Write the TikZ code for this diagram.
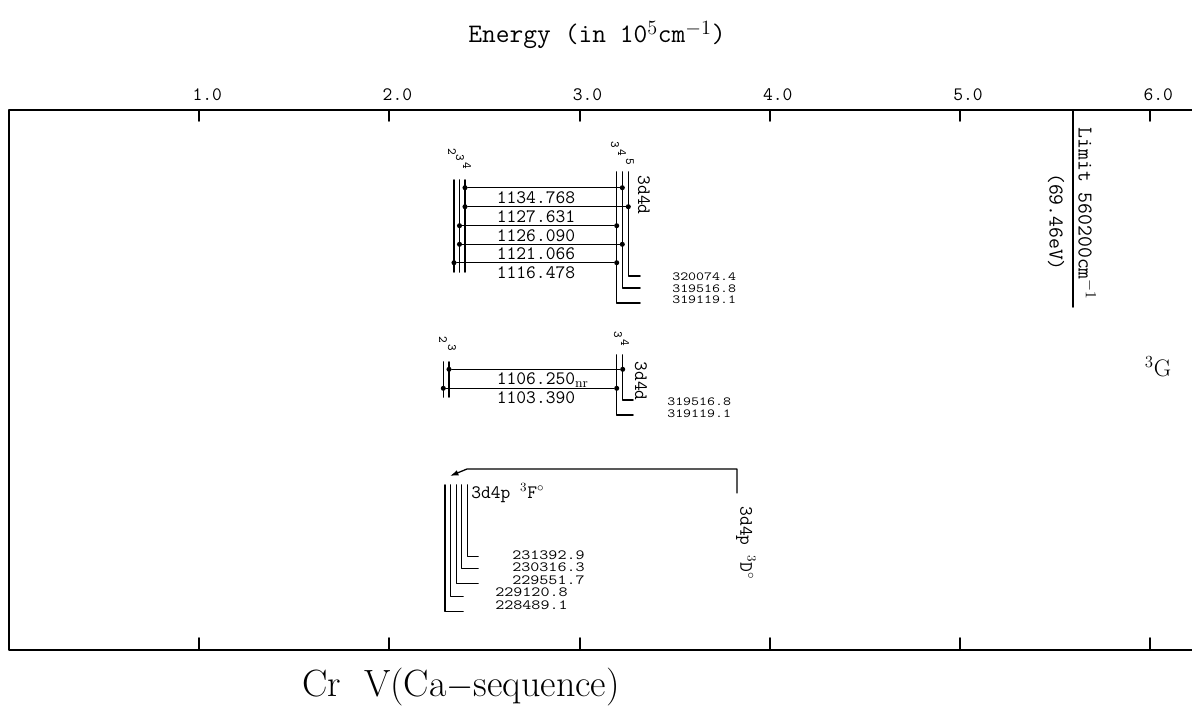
\documentclass[tikz,border=0pt]{standalone}
\usepackage{fontspec}
\usepackage{graphicx}
\usetikzlibrary{arrows.meta}
\newcommand{\squat}[1]{\scalebox{1}[0.8]{#1}}
\begin{document}
\begin{tikzpicture}[x=0.025cm, y=-0.025cm, line cap=round, line join=round,
    frame/.style={line width=1.9pt},
    tickmark/.style={line width=1.4pt},
    level/.style={line width=1.1pt},
    trans/.style={line width=0.9pt},
    dot/.style={circle, fill, inner sep=0pt, minimum size=3.6pt},
    axlabel/.style={font=\ttfamily\fontsize{13.5}{13.5}\selectfont, inner sep=0pt},
    wl/.style={font=\ttfamily\fontsize{13.5}{13.5}\selectfont, inner sep=0pt},
    en/.style={font=\ttfamily\fontsize{11}{11}\selectfont, inner sep=0pt, anchor=west},
    enb/.style={font=\ttfamily\fontsize{12.5}{12.5}\selectfont, inner sep=0pt, anchor=west},
    jnum/.style={font=\ttfamily\fontsize{9}{9}\selectfont, inner sep=0pt, rotate=-90},
    term/.style={font=\ttfamily\fontsize{13.5}{13.5}\selectfont, inner sep=0pt},
    lim/.style={font=\ttfamily\fontsize{15}{15}\selectfont, inner sep=0pt, rotate=-90}]
  \useasboundingbox (0,0) rectangle (1192,711);
  % frame and energy scale
  \draw[frame] (1192,110) -- (9,110) -- (9,650) -- (1192,650);
  \foreach \k in {1,...,6} {
    \draw[tickmark] ({9+190.2*\k},110) -- ++(0,11);
    \draw[tickmark] ({9+190.2*\k},650) -- ++(0,-12);
    \node[axlabel] (t\k) at ({17+190.2*\k},95) {\k.0};
  }
  \node[font=\ttfamily\fontsize{19}{19}\selectfont, inner sep=0pt] (ttl) at (597,35)
    {Energy (in 10$^5$cm$^{-1}$)};
  \node[font=\fontsize{27}{27}\selectfont, inner sep=0pt] (seq) at (461,687)
    {Cr\ \ V(Ca$-$sequence)};
  % ionisation limit
  \draw[level] (1073,110) -- (1073,307);
  \node[lim] (limA) at (1087,214) {Limit 560200cm$^{-1}$};
  \node[lim] (limB) at (1056,222) {(69.46eV)};
  \node[font=\fontsize{17}{17}\selectfont, inner sep=0pt] (g3) at (1158,367) {$^3$G};
  % 3d4p 3F -- 3d4d 3G
  \foreach \x in {454,459.5,465} \draw[level] (\x,180) -- (\x,272);
  \draw[level] (616.7,172) -- (616.7,303) -- (640,303);
  \draw[level] (622.3,172) -- (622.3,288) -- (640,288);
  \draw[level] (628.3,172) -- (628.3,276) -- (640,276);
  \foreach \y/\xa/\xb/\w [count=\i] in {187.7/465/622.3/1134.768,
      206.7/465/628.3/1127.631, 225.7/459.5/616.7/1126.090,
      244.3/459.5/622.3/1121.066, 262.7/454/616.7/1116.478} {
    \node[dot] (a\i) at (\xa,\y) {};
    \node[dot] (b\i) at (\xb,\y) {};
    \draw[trans] (a\i) -- (b\i);
    \node[wl] (w\i) at (536,\y+9.5) {\w};
  }
  \foreach \x/\y/\j [count=\i] in {452/152/2, 460/158/3, 467/166/4,
      615/145/3, 622/153/4, 630/162/5}
    \node[jnum] (ja\i) at (\x,\y) {\j};
  \node[term, rotate=-90] (dd1) at (644,195) {3d4d};
  \node[en] (e1) at (672,277) {\squat{320074.4}};
  \node[en] (e2) at (672,288.5) {\squat{319516.8}};
  \node[en] (e3) at (672,300) {\squat{319119.1}};
  % 3d4p 3D -- 3d4d 3G
  \foreach \x in {443.3,449} \draw[level] (\x,362) -- (\x,397);
  \draw[level] (616.7,355) -- (616.7,415) -- (633,415);
  \draw[level] (622.7,355) -- (622.7,400) -- (633,400);
  \node[dot] (c1) at (449,369.3) {};
  \node[dot] (d1) at (622.7,369.3) {};
  \node[dot] (c2) at (443.3,388.3) {};
  \node[dot] (d2) at (616.7,388.3) {};
  \draw[trans] (c1) -- (d1);
  \draw[trans] (c2) -- (d2);
  \node[wl] (w6) at (536,380) {1106.250\rlap{$_{\mathrm{nr}}$}};
  \node[wl] (w7) at (536,398) {1103.390};
  \foreach \x/\y/\j [count=\i] in {443/340/2, 452/348/3, 618/335/3, 625/343/4}
    \node[jnum] (jb\i) at (\x,\y) {\j};
  \node[term, rotate=-90] (dd2) at (641,381) {3d4d};
  \node[en] (e4) at (667,402) {\squat{319516.8}};
  \node[en] (e5) at (667,413.5) {\squat{319119.1}};
  % 3d4p levels
  \foreach \x/\yb/\xe in {467.3/556.7/478, 461.7/568.3/478, 456.3/583.3/478,
      450.7/596.7/463, 445/611.7/463}
    \draw[level] (\x,485) -- (\x,\yb) -- (\xe,\yb);
  \node[enb] (e6) at (512,555) {\squat{231392.9}};
  \node[enb] (e7) at (512,567.5) {\squat{230316.3}};
  \node[enb] (e8) at (512,580) {\squat{229551.7}};
  \node[enb] (e9) at (495,592.5) {\squat{229120.8}};
  \node[enb] (e10) at (495,605) {\squat{228489.1}};
  \node[term, anchor=west] (tf) at (471,493) {3d4p $^3$F$^\circ$};
  \node[term, rotate=-90] (tdp) at (746,543) {3d4p $^3$D$^\circ$};
  \coordinate (lead) at (737,493);
  \draw[trans, -{Latex[length=6pt, width=4pt]}] (lead) -- (737,469) -- (467,469) -- (450,476);
\end{tikzpicture}
\end{document}
